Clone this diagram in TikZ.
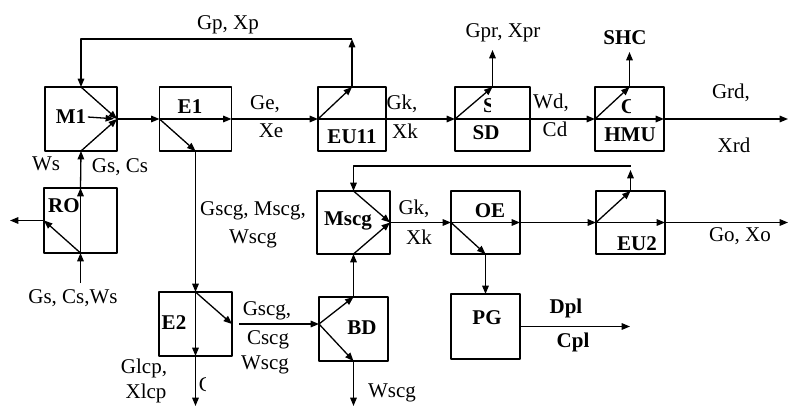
\documentclass[tikz,border=0pt]{standalone}
\usepackage{fontspec}
\setmainfont{Liberation Serif}
\usetikzlibrary{arrows.meta}

\begin{document}
\begin{tikzpicture}[x=0.5pt, y=-0.5pt, >={Triangle[length=4.2pt,width=3.3pt]},
	line join=round, line width=0.65pt, font=\fontsize{10.5}{12}\selectfont,
	blk/.style={draw, inner sep=0pt, outer sep=0pt},
	lbl/.style={inner sep=0.5pt},
	bl/.style={inner sep=0.5pt, font=\fontsize{10.5}{12}\selectfont\bfseries}]
	
	\useasboundingbox (0,0) rectangle (789,408);
	
	% ==========================================
	% CAC KHOI
	% ==========================================
	\foreach \n/\x/\y/\w/\h in {M1/81/119/72/64, E1/195.5/119/72/64, EU11/352/119/68/64,
		SD/492.5/119/75/64, HMU/629.5/119/69/64, RO/80.5/220.5/73/65,
		Mscg/353.5/222.5/73/63, OE/485.5/222.5/69/63, EU2/630.5/222.5/69/63,
		E2/195.5/324/73/64, BD/353.5/329/69/64, PG/485.5/326.5/69/65} {
		\node[blk, minimum width=\w*0.5pt, minimum height=\h*0.5pt] (\n) at (\x,\y) {};
	}
	
	% Ten cac khoi
	\node[bl] (m1t) at (71,117) {M1};
	\node[bl] (e1t) at (190,107) {E1};
	\node[bl] (eu11t) at (352,137) {EU11};
	\node[bl] (sdt) at (486,133) {SD};
	\node[bl] (hmut) at (630,135) {HMU};
	\node[bl] (shct) at (625,38) {SHC};
	\node[bl] (rot) at (64,206) {RO};
	\node[bl] (mscgt) at (348,221) {Mscg};
	\node[bl] (oet) at (490,211) {OE};
	\node[bl] (eu2t) at (637,244) {EU2};
	\node[bl] (e2t) at (174,323) {E2};
	\node[bl] (bdt) at (362,328) {BD};
	\node[bl] (pgt) at (487,318) {PG};
	\node[bl] (dplt) at (566,308) {Dpl};
	\node[bl] (cplt) at (573,342) {Cpl};
	
	% Chu bi cat
	\begin{scope}
		\clip (483,95) rectangle (490,114);
		\node[bl] (sdc) at (489,106) {S};
	\end{scope}
	\begin{scope}
		\clip (618,95) rectangle (630,114);
		\node[bl] (hmuc) at (628.5,107) {C};
	\end{scope}
	\begin{scope}
		\clip (197,372) rectangle (205,396);
		\node[lbl] (e2c) at (206,385) {C};
	\end{scope}
	
	% Nhan dong
	\node[lbl] (lgp) at (228,25) {Gp, Xp};
	\node[lbl] (lge) at (265,104) {Ge,};
	\node[lbl] (lxe) at (271,131) {Xe};
	\node[lbl] (lgk) at (402,104) {Gk,};
	\node[lbl] (lxk) at (405,131) {Xk};
	\node[lbl] (lgpr) at (503,33) {Gpr, Xpr};
	\node[lbl] (lwd) at (551,103) {Wd,};
	\node[lbl] (lcd) at (555,129) {Cd};
	\node[lbl] (lgrd) at (731,93) {Grd,};
	\node[lbl] (lxrd) at (734,145) {Xrd};
	\node[lbl] (lws) at (46,164) {Ws};
	\node[lbl] (lgs) at (120,167) {Gs, Cs};
	\node[lbl] (lgsin) at (73,298) {Gs, Cs,Ws};
	\node[lbl] (lgscg) at (253,211) {Gscg, Mscg,};
	\node[lbl] (lwscg) at (253,239) {Wscg};
	\node[lbl] (lgk2) at (414,209) {Gk,};
	\node[lbl] (lxk2) at (419,237) {Xk};
	\node[lbl] (lgo) at (740,236) {Go, Xo};
	\node[lbl] (lglcp) at (144,368) {Glcp,};
	\node[lbl] (lxlcp) at (146,393) {Xlcp};
	\node[lbl] (lgscg2) at (267,311) {Gscg,};
	\node[lbl] (lcscg) at (268,340) {Cscg};
	\node[lbl] (lwscg2) at (265,365) {Wscg};
	\node[lbl] (lwscg3) at (392,393) {Wscg};
	
	% Diem tu do
	\coordinate (fb1) at (352,39);
	\coordinate (fb2) at (630.5,166);
	\coordinate (gpr) at (492.5,50);
	\coordinate (shc) at (629.5,52);
	\coordinate (grd) at (788,119);
	\coordinate (go) at (788,222.5);
	\coordinate (roout) at (10,220.5);
	\coordinate (roin) at (80.5,283);
	\coordinate (e2out) at (195.5,406);
	\coordinate (bdout) at (353.5,406);
	\coordinate (pgout) at (630,326.5);
	
	% ==========================================
	% DONG 1: M1 -> E1 -> EU11 -> SD -> HMU
	% ==========================================
	\draw[->] (M1.north) -- (M1.east);
	\draw[->] (M1.south) -- (M1.east);
	\draw[->, shorten >=1.5pt] (m1t.east) -- (M1.east);
	\draw[->] (M1.east) -- (E1.west);
	\draw[->] (E1.west) -- (E1.east);
	\draw[->] (E1.west) -- (E1.south);
	\draw[->] (E1.east) -- (EU11.west);
	\draw (EU11.west) -- (EU11.east);
	\draw[->] (EU11.west) -- (EU11.north);
	\draw[->] (EU11.north) -- (fb1);
	\draw[->] (fb1) -| (M1.north);
	\draw[->] (EU11.east) -- (SD.west);
	\draw (SD.west) -- (SD.east);
	\draw[->] (SD.west) -- (SD.north);
	\draw[->] (SD.north) -- (gpr);
	\draw[->] (SD.east) -- (HMU.west);
	\draw[->] (HMU.west) -- (HMU.east);
	\draw[->] (HMU.west) -- (HMU.north);
	\draw[->] (HMU.north) -- (shc);
	\draw[->] (HMU.east) -- (grd);
	
	% RO
	\draw[->] (roin) -- (RO.south);
	\draw[->] (RO.south) -- (RO.north);
	\draw[->] (RO.south) -- (RO.west);
	\draw[->] (RO.west) -- (roout);
	\draw[->] (RO.north) -- (M1.south);
	
	% ==========================================
	% DONG 2: Mscg -> OE -> EU2
	% ==========================================
	\draw[->] (Mscg.north) -- (Mscg.east);
	\draw[->] (Mscg.south) -- (Mscg.east);
	\draw[->] (Mscg.east) -- (OE.west);
	\draw[->] (OE.west) -- (OE.east);
	\draw[->] (OE.west) -- (OE.south);
	\draw[->] (OE.south) -- (PG.north);
	\draw[->] (OE.east) -- (EU2.west);
	\draw[->] (EU2.west) -- (EU2.east);
	\draw[->] (EU2.west) -- (EU2.north);
	\draw[->, shorten >=2pt] (EU2.north) -- (fb2);
	\draw[->] (fb2) -| (Mscg.north);
	\draw[->] (EU2.east) -- (go);
	
	% ==========================================
	% DONG 3: E2 -> BD, PG
	% ==========================================
	\draw[->] (E1.south) -- (E2.north);
	\draw[->] (E2.north) -- (E2.south);
	\draw[->] (E2.north) -- (E2.east);
	\draw[->] (E2.south) -- (e2out);
	\draw[->, shorten <=3.5pt] (E2.east) -- (E2.east -| BD.west) coordinate (bdin);
	\draw[->] (bdin) -- (BD.north);
	\draw[->] (bdin) -- (BD.south);
	\draw[->] (BD.north) -- (Mscg.south);
	\draw[->] (BD.south) -- (bdout);
	\draw[->] (PG.east) -- (pgout);
\end{tikzpicture}
\end{document}
